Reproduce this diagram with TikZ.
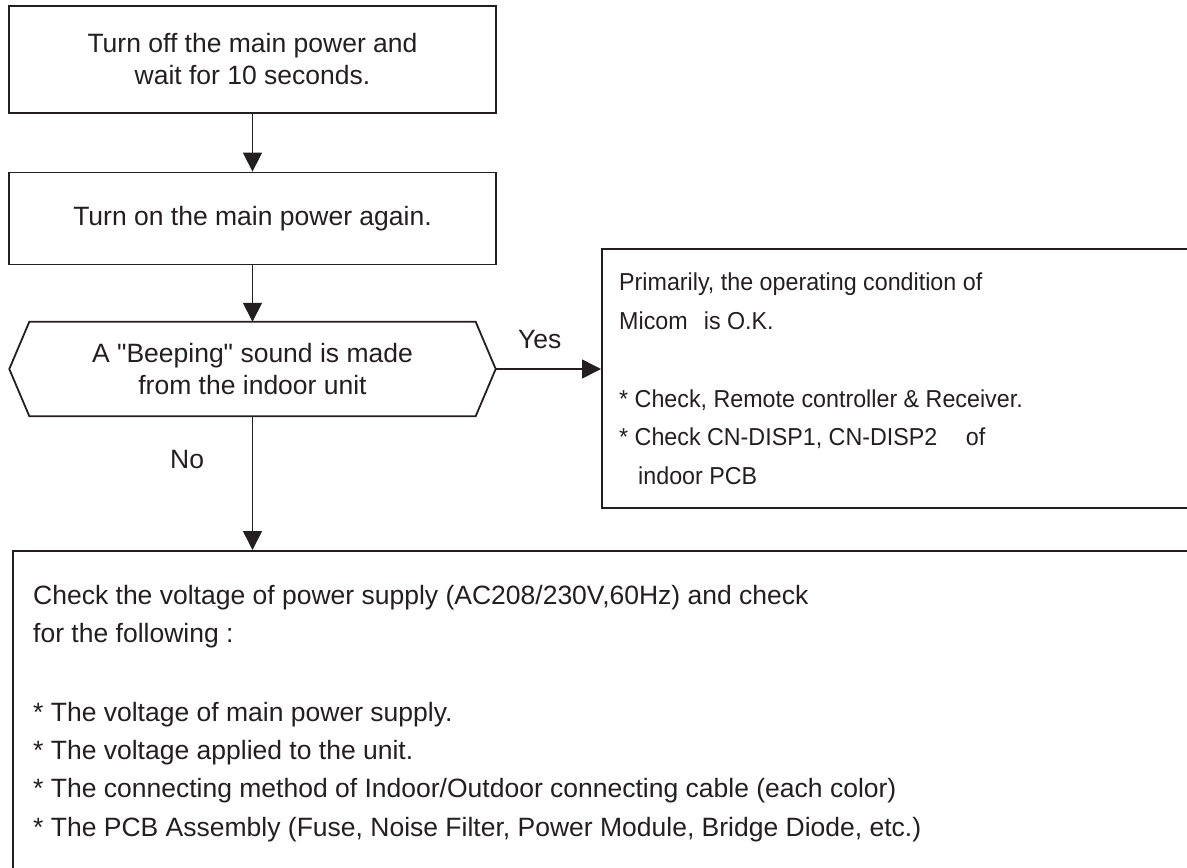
\documentclass[tikz,border=0pt]{standalone}
\usepackage{fontspec}
\usepackage{graphicx}
\setmainfont{Liberation Sans}[Ligatures=TeXOff]
\usetikzlibrary{arrows.meta}
\definecolor{ink}{HTML}{231F20}
\newcommand{\nrw}[1]{\scalebox{0.95}[1]{\fontsize{24.5}{30}\selectfont #1}}
\begin{document}
\begin{tikzpicture}[x=1pt,y=-1pt,
  frame/.style={draw=ink,line width=1.8pt},
  box/.style={frame,rectangle,inner sep=0pt},
  txt/.style={text=ink,font=\fontsize{26.5}{32}\selectfont,inner sep=0pt},
  ltxt/.style={txt,anchor=base west},
  arr/.style={draw=ink,line width=1.5pt,-{Triangle[length=19pt,width=19pt]}}]
\clip (0,0) rectangle (1187,868);
% boxes
\node[box,txt,align=center,minimum width=487pt,minimum height=107pt] (b1) at (252.5,59.5) {Turn off the main power and\\wait for 10 seconds.};
\node[box,txt,minimum width=487pt,minimum height=92pt] (b2) at (252.5,218.5) {Turn on the main power again.};
\node[txt,align=center,minimum width=486pt,minimum height=94pt] (dec) at (252.5,369) {A "Beeping" sound is made\\from the indoor unit};
\draw[frame] (dec.west) -- ([xshift=20pt]dec.north west) -- ([xshift=-20pt]dec.north east) -- (dec.east) -- ([xshift=-20pt]dec.south east) -- ([xshift=20pt]dec.south west) -- cycle;
\node[box,anchor=north west,minimum width=640pt,minimum height=259pt] (b3) at (601,248) {};
\node[box,anchor=north west,minimum width=1200pt,minimum height=360pt] (b4) at (12,550) {};
% connectors
\draw[arr] (b1.south) -- (b2.north);
\draw[arr] (b2.south) -- (dec.north);
\draw[arr] (dec.east) -- (dec.east -| b3.west);
\draw[arr] (dec.south) -- (dec.south |- b4.north);
\node[ltxt] (yes) at (518,348) {Yes};
\node[ltxt] (no) at (170,468) {No};
% box 3 text
\node[ltxt] (t31) at (619,290) {\nrw{Primarily, the operating condition of}};
\node[ltxt] (t32) at (619,329) {\nrw{Micom\hspace{17pt}is O.K.}};
\node[ltxt] (t33) at (619,407) {\nrw{* Check, Remote controller \& Receiver.}};
\node[ltxt] (t34) at (619,445) {\nrw{* Check CN-DISP1, CN-DISP2\hspace{30pt}of}};
\node[ltxt] (t35) at (638,484) {\nrw{indoor PCB}};
% box 4 text
\node[ltxt] (t41) at (33,604) {Check the voltage of power supply (AC208/230V,60Hz) and check};
\node[ltxt] (t42) at (33,642) {for the following :};
\node[ltxt] (t43) at (33,721) {* The voltage of main power supply.};
\node[ltxt] (t44) at (33,759) {* The voltage applied to the unit.};
\node[ltxt] (t45) at (33,797) {* The connecting method of Indoor/Outdoor connecting cable (each color)};
\node[ltxt] (t46) at (33,836) {* The PCB Assembly (Fuse, Noise Filter, Power Module, Bridge Diode, etc.)};
\end{tikzpicture}
\end{document}
